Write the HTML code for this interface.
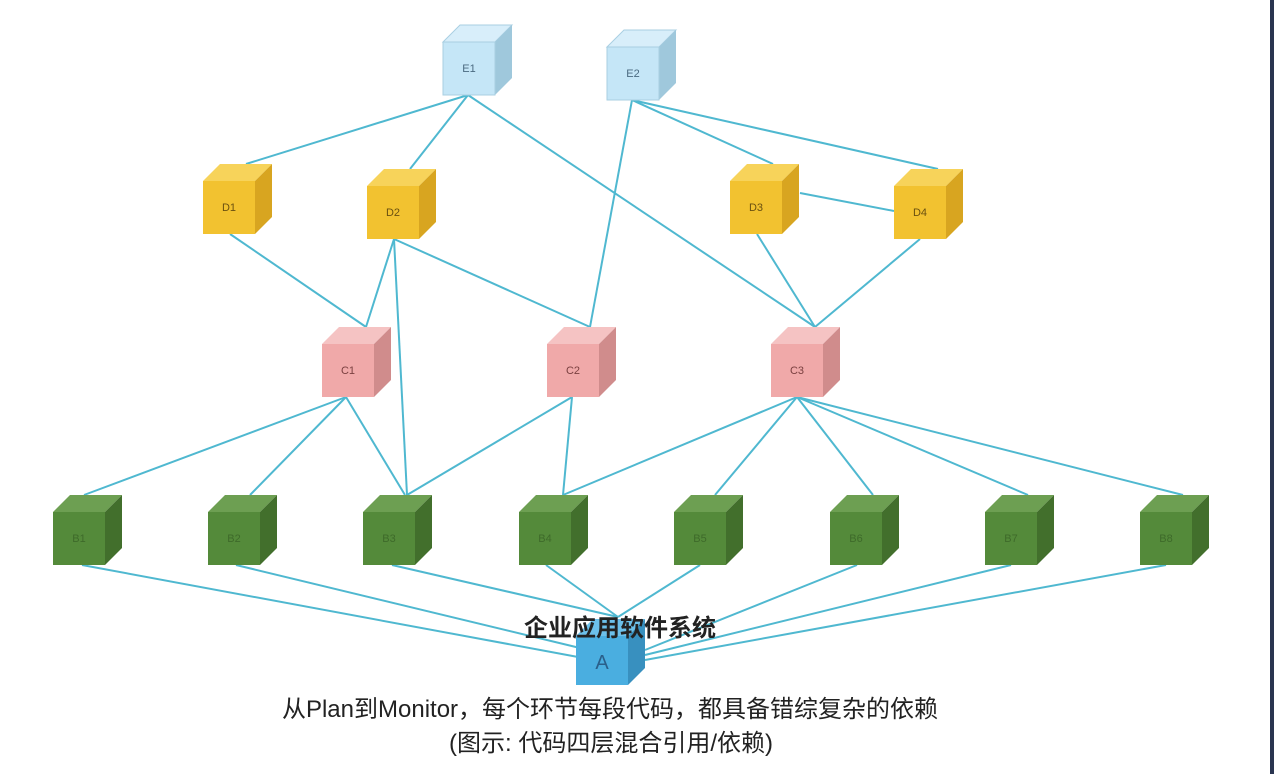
<!DOCTYPE html>
<html><head><meta charset="utf-8"><style>
html,body{margin:0;padding:0;background:#fff;width:1274px;height:774px;overflow:hidden}
</style></head><body>
<svg width="1274" height="774" xmlns="http://www.w3.org/2000/svg" font-family="Liberation Sans, Noto Sans CJK SC, sans-serif">
<rect x="0" y="0" width="1274" height="774" fill="#fff"/>
<rect x="1270" y="0" width="4" height="774" fill="#2a3550"/>
<g stroke="#4fb8d0" stroke-width="2" fill="none">
<line x1="468" y1="95" x2="246" y2="164"/>
<line x1="468" y1="95" x2="410" y2="169"/>
<line x1="468" y1="95" x2="815" y2="327"/>
<line x1="632" y1="100" x2="590" y2="327"/>
<line x1="632" y1="100" x2="773" y2="164"/>
<line x1="632" y1="100" x2="938" y2="169"/>
<line x1="800" y1="193" x2="894" y2="211"/>
<line x1="230" y1="234" x2="366" y2="327"/>
<line x1="394" y1="239" x2="366" y2="327"/>
<line x1="394" y1="239" x2="407" y2="495"/>
<line x1="394" y1="239" x2="590" y2="327"/>
<line x1="757" y1="234" x2="815" y2="327"/>
<line x1="920" y1="239" x2="815" y2="327"/>
<line x1="346" y1="397" x2="84" y2="495"/>
<line x1="346" y1="397" x2="250" y2="495"/>
<line x1="346" y1="397" x2="405" y2="495"/>
<line x1="572" y1="397" x2="407" y2="495"/>
<line x1="572" y1="397" x2="563" y2="495"/>
<line x1="797" y1="397" x2="563" y2="495"/>
<line x1="797" y1="397" x2="715" y2="495"/>
<line x1="797" y1="397" x2="873" y2="495"/>
<line x1="797" y1="397" x2="1028" y2="495"/>
<line x1="797" y1="397" x2="1183" y2="495"/>
<line x1="82" y1="565" x2="578" y2="657"/>
<line x1="236" y1="565" x2="580" y2="648"/>
<line x1="392" y1="565" x2="618" y2="617"/>
<line x1="546" y1="565" x2="618" y2="617"/>
<line x1="700" y1="565" x2="618" y2="617"/>
<line x1="857" y1="565" x2="645" y2="650"/>
<line x1="1011" y1="565" x2="645" y2="655"/>
<line x1="1166" y1="565" x2="645" y2="660"/>
</g>
<g font-size="11" text-anchor="middle">
<g><polygon points="443,42 460,25 512,25 495,42" fill="#d8eefa" stroke="#a9cfe2"/><polygon points="495,42 512,25 512,78 495,95" fill="#9fc8dc"/><rect x="443" y="42" width="52" height="53" fill="#c5e6f7" stroke="#a9cfe2"/><text x="469" y="72" fill="#4a6a80">E1</text></g>
<g><polygon points="607,47 624,30 676,30 659,47" fill="#d8eefa" stroke="#a9cfe2"/><polygon points="659,47 676,30 676,83 659,100" fill="#9fc8dc"/><rect x="607" y="47" width="52" height="53" fill="#c5e6f7" stroke="#a9cfe2"/><text x="633" y="77" fill="#4a6a80">E2</text></g>
<g><polygon points="203,181 220,164 272,164 255,181" fill="#f7d35a"/><polygon points="255,181 272,164 272,217 255,234" fill="#d8a520"/><rect x="203" y="181" width="52" height="53" fill="#f2c230"/><text x="229" y="211" fill="#6a5010">D1</text></g>
<g><polygon points="367,186 384,169 436,169 419,186" fill="#f7d35a"/><polygon points="419,186 436,169 436,222 419,239" fill="#d8a520"/><rect x="367" y="186" width="52" height="53" fill="#f2c230"/><text x="393" y="216" fill="#6a5010">D2</text></g>
<g><polygon points="730,181 747,164 799,164 782,181" fill="#f7d35a"/><polygon points="782,181 799,164 799,217 782,234" fill="#d8a520"/><rect x="730" y="181" width="52" height="53" fill="#f2c230"/><text x="756" y="211" fill="#6a5010">D3</text></g>
<g><polygon points="894,186 911,169 963,169 946,186" fill="#f7d35a"/><polygon points="946,186 963,169 963,222 946,239" fill="#d8a520"/><rect x="894" y="186" width="52" height="53" fill="#f2c230"/><text x="920" y="216" fill="#6a5010">D4</text></g>
<g><polygon points="322,344 339,327 391,327 374,344" fill="#f5c3c3"/><polygon points="374,344 391,327 391,380 374,397" fill="#d08c8c"/><rect x="322" y="344" width="52" height="53" fill="#f0a9a9"/><text x="348" y="374" fill="#7a4040">C1</text></g>
<g><polygon points="547,344 564,327 616,327 599,344" fill="#f5c3c3"/><polygon points="599,344 616,327 616,380 599,397" fill="#d08c8c"/><rect x="547" y="344" width="52" height="53" fill="#f0a9a9"/><text x="573" y="374" fill="#7a4040">C2</text></g>
<g><polygon points="771,344 788,327 840,327 823,344" fill="#f5c3c3"/><polygon points="823,344 840,327 840,380 823,397" fill="#d08c8c"/><rect x="771" y="344" width="52" height="53" fill="#f0a9a9"/><text x="797" y="374" fill="#7a4040">C3</text></g>
<g fill="#3e6a2a">
<polygon points="53,512 70,495 122,495 105,512" fill="#6d9f52"/><polygon points="105,512 122,495 122,548 105,565" fill="#426f2c"/><rect x="53" y="512" width="52" height="53" fill="#548a3a"/><text x="79" y="542">B1</text>
<polygon points="208,512 225,495 277,495 260,512" fill="#6d9f52"/><polygon points="260,512 277,495 277,548 260,565" fill="#426f2c"/><rect x="208" y="512" width="52" height="53" fill="#548a3a"/><text x="234" y="542">B2</text>
<polygon points="363,512 380,495 432,495 415,512" fill="#6d9f52"/><polygon points="415,512 432,495 432,548 415,565" fill="#426f2c"/><rect x="363" y="512" width="52" height="53" fill="#548a3a"/><text x="389" y="542">B3</text>
<polygon points="519,512 536,495 588,495 571,512" fill="#6d9f52"/><polygon points="571,512 588,495 588,548 571,565" fill="#426f2c"/><rect x="519" y="512" width="52" height="53" fill="#548a3a"/><text x="545" y="542">B4</text>
<polygon points="674,512 691,495 743,495 726,512" fill="#6d9f52"/><polygon points="726,512 743,495 743,548 726,565" fill="#426f2c"/><rect x="674" y="512" width="52" height="53" fill="#548a3a"/><text x="700" y="542">B5</text>
<polygon points="830,512 847,495 899,495 882,512" fill="#6d9f52"/><polygon points="882,512 899,495 899,548 882,565" fill="#426f2c"/><rect x="830" y="512" width="52" height="53" fill="#548a3a"/><text x="856" y="542">B6</text>
<polygon points="985,512 1002,495 1054,495 1037,512" fill="#6d9f52"/><polygon points="1037,512 1054,495 1054,548 1037,565" fill="#426f2c"/><rect x="985" y="512" width="52" height="53" fill="#548a3a"/><text x="1011" y="542">B7</text>
<polygon points="1140,512 1157,495 1209,495 1192,512" fill="#6d9f52"/><polygon points="1192,512 1209,495 1209,548 1192,565" fill="#426f2c"/><rect x="1140" y="512" width="52" height="53" fill="#548a3a"/><text x="1166" y="542">B8</text>
</g>
<g><polygon points="576,636 593,619 645,619 628,636" fill="#6cc0ea"/><polygon points="628,636 645,619 645,668 628,685" fill="#3890bf"/><rect x="576" y="636" width="52" height="49" fill="#4aaee0"/><text x="602" y="669" font-size="20" fill="#2a5f8a">A</text></g>
</g>
<text x="620" y="636" text-anchor="middle" font-size="24" font-weight="bold" fill="#222">企业应用软件系统</text>
<text x="610" y="717" text-anchor="middle" font-size="24" fill="#222">从Plan到Monitor，每个环节每段代码，都具备错综复杂的依赖</text>
<text x="611" y="751" text-anchor="middle" font-size="24" fill="#222">(图示: 代码四层混合引用/依赖)</text>
</svg>
</body></html>
